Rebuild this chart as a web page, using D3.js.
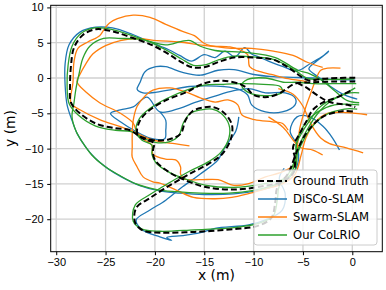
<!DOCTYPE html>
<html lang="en">
<head>
<meta charset="UTF-8">
<title>Trajectories</title>
<script src="https://cdn.jsdelivr.net/npm/d3@7"></script>
<style>
  body { margin: 0; background: #fff; }
  svg { display: block; font-family: "DejaVu Sans", sans-serif; }
  .tick text { font-size: 11px; fill: #000; }
</style>
</head>
<body>
<script>
// x/y ticks
const xTicks = [-30, -25, -20, -15, -10, -5, 0];
const yTicks = [-20, -15, -10, -5, 0, 5, 10];

// ground truth (three robots)
const gtTracks = [
  [[0.3,0.05],[-1.5,0],[-3,-0.1],[-4.5,-0.3],[-5.5,0.5],[-6.5,1.5],[-8,2.6],[-10,2.9],[-12,2.9],[-13.5,2.3],[-14.8,1.6],[-16.2,1.5],[-17.5,2.4],[-18.5,3.3],[-20.2,4.6],[-22.3,5.7],[-24.3,6.6],[-26,6.9],[-27.3,6.1],[-28.2,4.3],[-28.5,1.8],[-28.6,-1],[-28.5,-3.5],[-27.6,-5],[-25.9,-6.5],[-24,-7.1],[-22.5,-7.4],[-21.5,-8.3],[-20.2,-8.8],[-18.6,-8.7],[-17.4,-7.9],[-16.9,-6],[-16.2,-4.7],[-15.2,-4.2],[-14.2,-4.1],[-13.1,-4.8],[-12.2,-6.6],[-12.3,-8.6],[-13.2,-10.8],[-14.5,-12.1],[-16.5,-13.6],[-18.5,-15.2],[-20.5,-17],[-21.9,-18.4],[-22,-20.5],[-21.2,-21.6],[-19.5,-21.9],[-16,-21.8],[-12,-21.4],[-9.5,-20.9],[-8.2,-19.8],[-7.8,-17.5],[-7.6,-15.5],[-6.5,-13.5],[-5.5,-10],[-4.5,-7.5],[-3,-5.5],[-1,-4.7],[0.3,-4.8]],
  [[0.3,-0.5],[-2,-0.5],[-4,-0.6],[-5.8,-0.8],[-7.3,-2.1],[-8.6,-2.7],[-10,-2.4],[-10.7,-1.4],[-11.5,-0.8],[-13.1,-0.4],[-14.6,-0.6],[-15.6,-1.1],[-16.8,-2],[-18.8,-3.1],[-20.5,-4.5],[-21.5,-6],[-21.8,-7.8],[-21.2,-8.6],[-20.1,-9.2],[-20.2,-10.3],[-20,-11.6],[-18.6,-13.3],[-17.2,-14.3],[-15,-15.4],[-12,-15.8],[-9,-15.3],[-7,-14.6],[-6,-13.5],[-5.8,-11.5],[-6,-9.8],[-5.3,-7.8],[-4.6,-6],[-4,-4.5],[-3,-3.5],[-1.5,-2.7],[0,-1.7]],
  [[-5.6,-0.7],[-4.6,-1.4],[-3.6,-2.4],[-2.3,-3.4],[-0.5,-3.8],[0.3,-4.1]]
];

// DiSCo-SLAM
const discoTracks = [
  [[0.5,-3],[-0.8,-2.4],[-2.2,-1.2],[-3.5,0.2],[-4.4,1.3],[-3.6,2.4],[-2.6,3.5],[-2.4,3.8],[-2.9,3.2],[-4.2,2.1],[-5.6,1],[-7,1.6],[-8.5,2.4],[-9.5,3],[-10.2,3.4],[-10.9,4.3],[-11.9,3],[-12.9,3.8],[-13.9,2.9],[-15,3.3],[-16.3,2.4],[-17.5,3.2],[-18.6,4],[-20.3,5],[-22.3,6.2],[-24.3,7.1],[-26,7.2],[-27.6,6.5],[-28.7,4.7],[-29.1,2],[-29.1,-1],[-28.9,-3.8],[-28.4,-6],[-27.9,-7.8],[-27.1,-9.6],[-26.1,-11.3],[-24.8,-12.8],[-23.4,-14],[-21.6,-15.2],[-19.5,-16],[-17.5,-16.3],[-15,-16.5],[-12,-16.4],[-9.5,-15.9],[-7.7,-15.2],[-6.3,-14],[-5.5,-12],[-5.6,-9.5],[-6.3,-7.5],[-5.6,-5.5],[-4.5,-5.4],[-3,-6.8],[-2,-8.5],[-1.3,-10.2]],
  [[0.3,-0.3],[-2,-0.2],[-4,0],[-6,0.1],[-8,0.2],[-10,0.5],[-12,1.2],[-13.6,1.1],[-15.4,0.4],[-17.2,0.8],[-18.9,1.6],[-19.9,1.6],[-21,0.9],[-21.5,-0.6],[-21.8,-1.6],[-21.2,-2.1],[-19.8,-2],[-18.2,-1.6],[-16.5,-1.2],[-15,-1.1],[-13,-1.2],[-11.5,-1.6],[-10.6,-2.4],[-10.2,-3.8],[-8.8,-4.8],[-7.1,-4.8],[-5.8,-3.8],[-5.8,-2.8],[-6.8,-2.1],[-8.8,-2.1],[-10.5,-1.5],[-12,-1.8],[-14,-2.6],[-16,-3.5],[-17.5,-4.3],[-19.5,-4.8],[-20.8,-2.7],[-22.2,-4.1],[-23.5,-4.5],[-24.5,-5],[-23.5,-6.2],[-22,-7.5],[-20.5,-8.5],[-19,-8.6],[-18.9,-7.4],[-18.9,-6],[-19.5,-4.8]],
  [[-11.5,-5.5],[-11.8,-7.5],[-12.6,-9.2],[-13.2,-10.5],[-13.6,-11.6],[-15.4,-13.6],[-17.2,-15.4],[-18.9,-17.3],[-20.5,-18.7],[-21.9,-20.1],[-21.3,-21.5],[-19.5,-22.5],[-18.3,-23],[-18.8,-22.6],[-17,-22.3],[-15.4,-21.9],[-13.9,-21.3],[-10.5,-20.8],[-8.8,-20.1],[-7.1,-18.7],[-6.8,-16.4],[-7.4,-14.2],[-6.9,-12.8]]
];

// Swarm-SLAM
const swarmTracks = [
  [[-4.6,-0.5],[-6.5,-0.1],[-8.2,0.5],[-9.6,1],[-10.4,1.6],[-10.6,3.3],[-11.4,4],[-12.4,4.4],[-14.4,4.6],[-15.1,5],[-16,6],[-17.2,6.6],[-18.9,7.6],[-20.5,8.6],[-22.2,8.9],[-23.8,8.4],[-24.6,7.8],[-25.1,7],[-25.6,6],[-26.8,5.1],[-27.8,4.2],[-28.2,2.3],[-28.3,-0.6],[-28.5,-3.6],[-27.6,-4.5],[-25.6,-5.9],[-23.5,-6.9],[-22.2,-7.6],[-20.8,-8.5],[-19.5,-9],[-18,-9.3],[-16.5,-9.6]],
  [[-3,1.5],[-4.5,2.2],[-6,3.2],[-8,3.8],[-10.2,4.2],[-12,4.2],[-13.6,4.4],[-15.5,4.7],[-17.5,5.1],[-19.8,5.3],[-21.8,5.6],[-23.5,5.3],[-25,4.6],[-26.3,3.4],[-27,2],[-27.6,0.5],[-27.9,-0.5],[-26.9,-2.1],[-25.6,-3.5],[-23.5,-5],[-22.2,-6.4],[-21.8,-7.8],[-21,-8.8],[-20.3,-9.5],[-20.2,-10.8],[-18.9,-11.5],[-17.9,-11.6],[-17.4,-12.6],[-17.4,-13.6],[-17,-14.3],[-15.4,-14.4],[-13.6,-14.4],[-12,-15.2],[-10.6,-15],[-8.8,-14],[-7.1,-13.3],[-5.8,-12.2],[-5.6,-10],[-5.3,-7],[-4.8,-4.5],[-4.3,-2.5],[-3.8,-0.6],[-3.2,1.1],[-2.5,1.4],[-1.2,1.4]],
  [[-6.5,-7.4],[-7.1,-6.4],[-8.1,-6.2],[-9.9,-5.9],[-11.2,-5.2],[-11.6,-3.8],[-12.6,-3.1],[-13.9,-3.4],[-15.4,-2.8],[-16.8,-2],[-18.5,-1.4],[-20.2,-1.7],[-20.9,-2.4],[-21.8,-4],[-22.2,-6],[-22.3,-8],[-22.3,-9.8],[-22.3,-11.2],[-21.8,-12.6],[-21.2,-14],[-20.2,-14.7],[-19.5,-14.9],[-17.8,-15.9],[-16.1,-16.9],[-13.9,-17.1],[-12.2,-16.9],[-10.6,-16.4],[-8.8,-15.7],[-7.1,-15],[-5.8,-13.6],[-5.2,-11],[-4.7,-8.5],[-3.8,-6.3],[-2.5,-5],[-0.5,-4.9],[1.5,-5.2]],
  [[-7.5,-1.5],[-6,-2.3],[-5,-4],[-4.2,-6.5],[-3.2,-8.5],[-2.3,-9.3],[-0.6,-9.9],[1.1,-10.6]],
  [[-8.5,-5.5],[-7,-7],[-5.3,-9.8],[-4,-10.2],[-3,-10.9]]
];

// Our CoLRIO
const colrioTracks = [
  [[0.2,-0.1],[-1.5,-0.2],[-3.2,-0.2],[-4.6,0],[-5.6,0.9],[-6.8,1.9],[-8.2,2.7],[-10.2,3],[-12,3.1],[-13.5,2.6],[-14.8,1.9],[-16.1,1.8],[-17.3,2.7],[-18.4,3.6],[-20.2,4.9],[-22.3,6],[-24.4,6.9],[-26.1,7.1],[-27.5,6.3],[-28.4,4.5],[-28.8,1.8],[-28.9,-1],[-28.7,-3.6],[-27.8,-5.2],[-26,-6.8],[-24,-7.4],[-22.4,-7.6],[-21.3,-8.4],[-20,-9.1],[-18.5,-9],[-17.6,-8.2],[-17.1,-6.3],[-16.4,-5],[-15.3,-4.5],[-14.2,-4.4],[-13.3,-5],[-12.5,-6.6],[-12.5,-8.5],[-13.3,-10.5],[-14.5,-11.8],[-16.5,-13.2],[-18.5,-14.8],[-20.5,-16.5],[-22,-18],[-22.2,-20.3],[-21.3,-21.4],[-19.5,-21.7],[-16,-21.5],[-12,-21.2],[-9.5,-20.6],[-8,-19.5],[-7.6,-17.3],[-7.4,-15.3],[-6.3,-13.2],[-5.3,-9.8],[-4.3,-7.3],[-2.8,-5.3],[-0.8,-4.4],[0.5,-4.4]],
  [[0.7,-3.5],[-0.5,-3.2],[-1.8,-1.8],[-3,-0.4],[-4.3,0.6],[-5.5,1.1],[-7.8,2.9],[-10.6,3.6],[-13.9,3.9],[-15.4,4.5],[-16.4,5.3],[-17.3,5.2],[-18.9,4.7],[-21.5,5.5],[-23.5,5.6],[-25.2,5.6],[-26.6,4.5],[-27.3,2.8],[-27.7,0.5],[-28,-1.5],[-28.2,-3.5],[-28.4,-5.5],[-28,-7.5],[-27.3,-9.2],[-26.4,-10.9],[-25.1,-12.5],[-23.7,-13.7],[-21.9,-15],[-19.8,-15.8],[-17.8,-16.1],[-15.4,-16.3],[-12.5,-16.3],[-10,-15.9],[-8,-15.2],[-6.5,-14.2],[-5.8,-12],[-5.6,-9],[-4.8,-6.5],[-3.5,-4.8],[-1.8,-3.8],[0.7,-3.8]],
  [[0.4,-0.8],[-2,-0.8],[-4,-0.8],[-5.6,-0.6],[-7,-0.6],[-8.8,0],[-10.6,-0.2],[-11.2,-1],[-10.6,-2],[-8.8,-2.5],[-7.1,-2],[-7.3,-1.2],[-9,-0.9],[-11,-0.8],[-13.3,-0.9],[-15,-1],[-16.8,-1.7],[-18.8,-2.9],[-20.4,-4.2],[-21.6,-5.8],[-21.9,-7.7],[-21.3,-8.8],[-20.3,-9.5],[-20.3,-10.8],[-19.9,-12],[-18.5,-13.4],[-17.1,-14.2],[-14.8,-15.2],[-12,-15.5],[-9,-15],[-7,-14.3],[-5.9,-13.3],[-5.6,-11.2],[-5.7,-9.5],[-5,-7.5],[-4.2,-5.8],[-3.5,-4.4],[-2.5,-3.3],[-1,-2.4],[0.3,-1.4]],
  [[-5.9,-12],[-5.2,-9],[-4.6,-7.4],[-3.6,-5.2],[-2.3,-3.4],[-0.6,-2.2],[0.7,-2.1]]
];

const legendNames = ["Ground Truth", "DiSCo-SLAM", "Swarm-SLAM", "Our CoLRIO"];

const width = 386, height = 290;
const margin = {left: 50.7, right: 3.7, top: 5.3, bottom: 38.3};

const svg = d3.select("body").append("svg")
  .attr("width", width).attr("height", height);

const x = d3.scaleLinear().domain([-30.56, 3.04]).range([margin.left, width - margin.right]);
const y = d3.scaleLinear().domain([-24.6, 10.3]).range([height - margin.bottom, margin.top]);

// grid
const grid = svg.append("g");
grid.selectAll(".gx").data(xTicks).enter().append("line")
  .attr("x1", d => x(d)).attr("x2", d => x(d))
  .attr("y1", y.range()[0]).attr("y2", y.range()[1])
  .attr("stroke", "#d0d0d0").attr("stroke-width", 1.3);
grid.selectAll(".gy").data(yTicks).enter().append("line")
  .attr("y1", d => y(d)).attr("y2", d => y(d))
  .attr("x1", x.range()[0]).attr("x2", x.range()[1])
  .attr("stroke", "#d0d0d0").attr("stroke-width", 1.3);

svg.append("defs").append("clipPath").attr("id", "clip")
  .append("rect")
  .attr("x", margin.left).attr("y", margin.top)
  .attr("width", width - margin.left - margin.right)
  .attr("height", height - margin.top - margin.bottom);

const line = d3.line()
  .x(d => x(d[0])).y(d => y(d[1]))
  .curve(d3.curveCatmullRom.alpha(0.5));

const plot = svg.append("g").attr("clip-path", "url(#clip)");

function drawTracks(tracks, color, w, dash) {
  plot.append("g").selectAll("path").data(tracks).enter().append("path")
    .attr("d", line)
    .attr("fill", "none")
    .attr("stroke", color)
    .attr("stroke-width", w)
    .attr("stroke-dasharray", dash)
    .attr("stroke-linejoin", "round");
}
drawTracks(discoTracks, "#1f77b4", 1.3, null);
drawTracks(swarmTracks, "#ff7f0e", 1.3, null);
drawTracks(colrioTracks, "#2ca02c", 1.3, null);
drawTracks(gtTracks, "#000", 2, "6,3");

// axes
svg.append("g")
  .attr("transform", `translate(0,${y.range()[0]})`)
  .call(d3.axisBottom(x).tickValues(xTicks).tickSize(3.5).tickPadding(3.5))
  .call(g => g.select(".domain").remove());
svg.append("g")
  .attr("transform", `translate(${x.range()[0]},0)`)
  .call(d3.axisLeft(y).tickValues(yTicks).tickSize(3.5).tickPadding(3.5))
  .call(g => g.select(".domain").remove());

svg.append("rect")
  .attr("x", margin.left).attr("y", margin.top)
  .attr("width", width - margin.left - margin.right)
  .attr("height", height - margin.top - margin.bottom)
  .attr("fill", "none").attr("stroke", "#000").attr("stroke-width", 1);

// labels
svg.append("text")
  .attr("x", (x.range()[0] + x.range()[1]) / 2).attr("y", 280)
  .attr("text-anchor", "middle").style("font-size", "13.9px")
  .text("x (m)");
svg.append("text")
  .attr("transform", `translate(15,${(y.range()[0] + y.range()[1]) / 2}) rotate(-90)`)
  .attr("text-anchor", "middle").style("font-size", "13.9px")
  .text("y (m)");

// legend
const legend = svg.append("g").attr("transform", "translate(254,170)");
legend.append("rect")
  .attr("width", 123).attr("height", 75).attr("rx", 3)
  .attr("fill", "#fff").attr("fill-opacity", 0.8)
  .attr("stroke", "#cccccc").attr("stroke-width", 1);
const legStyle = [
  {color: "#000", w: 2, dash: "6,3"},
  {color: "#1f77b4", w: 1.5, dash: null},
  {color: "#ff7f0e", w: 1.5, dash: null},
  {color: "#2ca02c", w: 1.5, dash: null}
];
const items = legend.selectAll(".item").data(legendNames).enter().append("g")
  .attr("transform", (d, i) => `translate(0,${11 + i * 18})`);
items.append("line")
  .attr("x1", 4).attr("x2", 33)
  .attr("stroke", (d, i) => legStyle[i].color)
  .attr("stroke-width", (d, i) => legStyle[i].w)
  .attr("stroke-dasharray", (d, i) => legStyle[i].dash);
items.append("text")
  .attr("x", 39).attr("dy", "0.36em")
  .style("font-size", "11.6px")
  .text(d => d);
</script>
</body>
</html>
